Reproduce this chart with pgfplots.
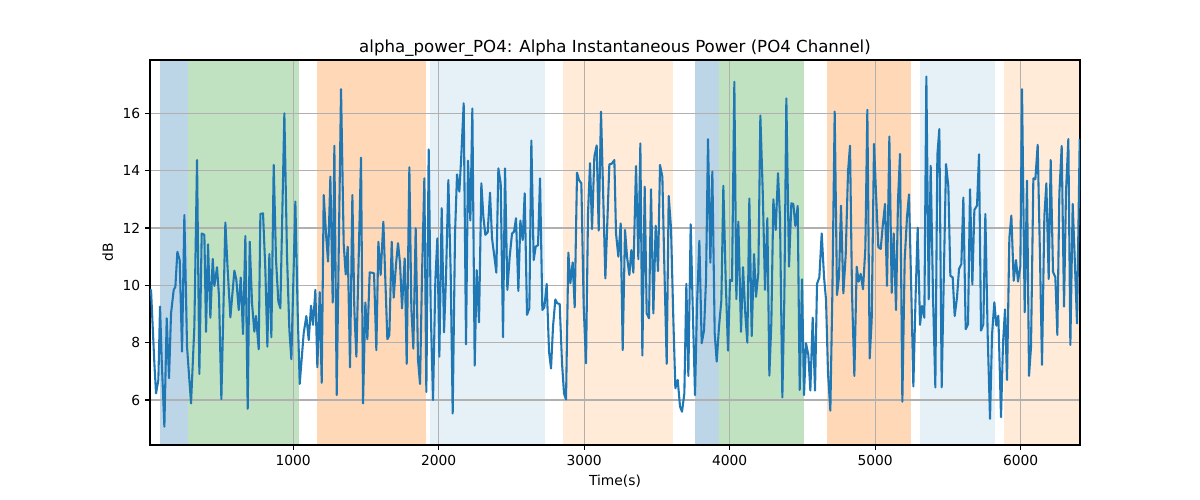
\documentclass[border=0pt]{standalone}
\usepackage{pgfplots}
\pgfplotsset{compat=1.18}
\usepackage{fontspec}
\setmainfont{DejaVu Sans}
\definecolor{tabblue}{RGB}{31,119,180}
\definecolor{taborange}{RGB}{255,127,14}
\definecolor{tabgreen}{RGB}{44,160,44}
\definecolor{gridgray}{RGB}{176,176,176}
\pgfplotsset{span/.style={draw=none, fill=#1, on layer=axis background}}
\begin{document}
\begin{tikzpicture}
\begin{axis}[
  set layers,
  at={(0,0)}, anchor=south west,
  scale only axis, width=669.6bp, height=277.2bp,
  xmin=16, xmax=6408, ymin=4.43, ymax=17.86,
  xtick={1000,2000,3000,4000,5000,6000},
  ytick={6,8,10,12,14,16},
  grid=major,
  major grid style={gridgray, line width=0.8bp},
  tick align=outside, major tick length=3.5bp,
  tick style={black, line width=0.8bp},
  xtick pos=bottom, ytick pos=left,
  axis line style={black, line width=0.8bp},
  /pgf/number format/assume math mode=true,
  /pgf/number format/1000 sep={},
  ticklabel style={font=\fontsize{10}{12}\selectfont},
  xlabel={Time(s)}, ylabel={dB},
  label style={font=\fontsize{10}{12}\selectfont},
  title={alpha\_power\_PO4: Alpha Instantaneous Power (PO4 Channel)},
  title style={font=\fontsize{12}{14}\selectfont, yshift=-6.8bp},
]
\addplot[span={tabblue!30!white}] coordinates {(87,4.43) (277,4.43) (277,17.86) (87,17.86)} --cycle;
\addplot[span={tabgreen!30!white}] coordinates {(277,4.43) (1038,4.43) (1038,17.86) (277,17.86)} --cycle;
\addplot[span={taborange!30!white}] coordinates {(1166,4.43) (1913,4.43) (1913,17.86) (1166,17.86)} --cycle;
\addplot[span={tabblue!11!white}] coordinates {(1941,4.43) (2731,4.43) (2731,17.86) (1941,17.86)} --cycle;
\addplot[span={taborange!16!white}] coordinates {(2857,4.43) (3611,4.43) (3611,17.86) (2857,17.86)} --cycle;
\addplot[span={tabblue!30!white}] coordinates {(3760,4.43) (3925,4.43) (3925,17.86) (3760,17.86)} --cycle;
\addplot[span={tabgreen!30!white}] coordinates {(3925,4.43) (4511,4.43) (4511,17.86) (3925,17.86)} --cycle;
\addplot[span={taborange!30!white}] coordinates {(4671,4.43) (5247,4.43) (5247,17.86) (4671,17.86)} --cycle;
\addplot[span={tabblue!11!white}] coordinates {(5311,4.43) (5824,4.43) (5824,17.86) (5311,17.86)} --cycle;
\addplot[span={taborange!16!white}] coordinates {(5888,4.43) (6408,4.43) (6408,17.86) (5888,17.86)} --cycle;
\addplot[tabblue, line width=1.5bp, line join=round] table {
x y
16 9.84
23.1 9.84
46.0 7.28
57.5 6.23
73.5 6.70
85.0 9.26
96.4 7.40
114.8 5.07
130.8 8.85
146.8 6.76
160.6 9.02
178.9 9.84
190.4 9.95
204.1 11.17
220.1 10.88
236.2 7.69
252.2 12.45
270.5 7.86
298.0 5.88
320.9 8.56
339.3 14.37
355.3 6.91
371.4 11.81
389.7 11.76
401.1 8.38
414.9 11.43
430.9 8.87
447.0 10.92
458.4 9.98
476.7 10.63
490.5 9.60
506.5 6.03
534.0 12.19
550.1 10.53
568.4 8.88
595.9 10.51
609.6 10.19
625.7 9.14
639.4 10.27
655.4 8.30
671.5 11.72
687.5 5.69
701.3 11.52
717.3 9.37
733.3 8.38
744.8 8.93
763.1 7.77
774.6 12.49
792.9 12.51
808.9 10.53
822.7 7.86
836.4 11.09
850.2 8.19
866.2 14.20
882.2 10.88
898.3 9.43
912.0 9.20
939.5 16.00
957.8 11.00
973.9 8.44
987.6 7.42
1015.1 12.92
1031.2 9.02
1044.9 6.56
1072.4 8.33
1090.7 8.93
1106.8 8.09
1122.8 9.29
1136.5 8.62
1152.6 9.84
1166.3 7.14
1182.4 9.76
1196.1 6.60
1209.9 13.15
1225.9 11.79
1239.7 10.83
1255.7 13.79
1271.7 9.40
1283.2 14.87
1299.2 6.17
1329.0 16.84
1347.3 11.44
1361.1 10.38
1374.8 11.35
1390.8 7.14
1406.9 13.15
1420.6 9.12
1434.4 7.51
1466.4 14.45
1480.2 5.88
1496.2 9.40
1510.0 8.12
1526.0 10.45
1542.0 10.44
1555.8 10.42
1571.8 7.74
1585.6 11.52
1601.3 10.36
1619.9 12.22
1647.4 8.12
1661.1 8.26
1677.2 11.52
1690.9 9.57
1707.0 10.74
1720.7 11.47
1734.4 10.77
1748.2 9.20
1766.5 10.94
1780.3 7.26
1798.6 14.12
1812.3 9.20
1826.1 7.79
1842.1 11.99
1858.2 7.40
1871.9 6.56
1885.6 10.36
1901.7 13.73
1915.4 6.28
1931.5 14.74
1945.2 9.20
1961.3 6.00
1977.3 10.19
1991.0 11.64
2004.8 7.51
2020.8 12.69
2036.9 8.36
2050.6 10.30
2066.6 13.67
2082.7 10.42
2096.4 5.53
2112.5 11.81
2126.2 13.87
2142.2 13.27
2156.0 14.55
2172.0 16.35
2188.1 7.94
2201.8 14.35
2217.8 12.26
2231.6 16.17
2247.6 7.20
2261.4 10.53
2277.4 8.71
2293.4 13.56
2307.2 12.40
2320.9 11.76
2337.0 11.85
2353.0 13.23
2366.8 11.64
2382.8 11.00
2396.5 10.44
2410.3 14.08
2426.3 13.56
2442.4 8.19
2456.1 14.08
2472.1 9.84
2488.2 11.00
2504.2 11.81
2518.0 11.87
2531.7 12.34
2547.8 9.80
2561.5 12.26
2577.5 11.58
2591.3 13.21
2607.3 8.97
2623.4 9.20
2637.1 15.05
2653.1 10.88
2666.9 11.35
2682.9 11.40
2696.7 13.73
2712.7 9.14
2726.4 9.23
2742.5 10.05
2758.5 7.69
2772.3 7.10
2786.0 8.56
2802.0 9.51
2815.8 9.37
2831.8 9.35
2847.9 7.28
2861.6 6.23
2875.4 6.02
2891.4 11.14
2905.1 10.07
2921.2 10.80
2934.9 9.23
2951.0 13.93
2964.7 13.67
2980.7 13.56
2996.8 9.26
3012.8 7.28
3026.6 12.51
3040.3 14.26
3054.1 11.96
3070.1 14.49
3086.1 14.88
3099.9 11.91
3115.9 16.06
3145.7 10.24
3173.2 14.22
3189.2 14.24
3207.6 14.37
3219.0 11.81
3235.1 11.00
3251.1 12.16
3264.8 7.74
3280.9 11.93
3294.6 11.00
3310.7 10.36
3324.4 11.23
3338.2 10.44
3356.5 14.16
3372.5 10.91
3386.3 14.95
3400.0 7.55
3416.0 13.44
3429.8 9.02
3445.8 8.85
3459.6 13.35
3475.6 9.02
3491.6 12.08
3507.7 10.50
3521.4 14.20
3537.5 13.79
3551.2 10.65
3567.3 7.26
3581.0 13.12
3597.0 11.99
3613.1 8.79
3626.8 6.41
3642.9 6.70
3658.9 5.77
3672.6 5.59
3688.7 6.23
3702.4 10.05
3716.2 6.84
3732.2 12.13
3746.0 9.26
3762.0 6.17
3775.7 9.31
3791.8 11.55
3807.8 7.98
3823.8 8.42
3837.6 10.19
3851.3 15.10
3867.4 10.79
3881.1 13.97
3897.2 8.33
3910.9 7.34
3926.9 8.56
3943.0 9.47
3956.7 13.47
3972.8 10.19
3988.8 7.72
4002.5 10.19
4016.3 10.15
4032.3 17.10
4046.1 9.52
4059.8 12.22
4078.1 8.38
4091.9 10.63
4107.9 8.97
4121.7 8.00
4135.4 13.03
4151.5 8.23
4167.5 11.09
4181.2 9.60
4197.3 10.44
4211.0 15.92
4227.1 13.33
4243.1 9.84
4259.1 12.34
4272.9 6.85
4286.6 8.70
4300.4 13.00
4316.4 11.93
4332.4 13.91
4346.2 12.34
4362.2 6.09
4376.0 9.60
4389.7 16.52
4408.0 10.65
4424.1 12.86
4437.8 12.84
4451.6 12.07
4467.6 12.77
4481.4 6.35
4497.4 10.21
4511.1 6.17
4524.9 7.98
4540.9 7.57
4554.7 6.33
4570.7 8.87
4586.7 6.33
4600.5 10.05
4616.5 10.28
4632.6 11.81
4648.6 10.30
4662.4 9.49
4676.1 6.93
4692.1 5.63
4705.9 9.72
4721.9 16.06
4738.0 9.66
4751.7 10.30
4765.5 12.78
4781.5 9.72
4797.6 11.06
4813.6 13.97
4827.3 14.87
4841.1 9.72
4857.1 6.84
4873.1 10.65
4886.9 10.13
4900.6 10.40
4916.7 9.86
4932.7 11.29
4946.4 16.12
4962.5 7.45
4976.2 8.79
4992.3 14.93
5006.0 13.21
5022.0 11.33
5038.1 11.27
5051.8 12.05
5067.9 12.84
5081.6 9.98
5097.7 15.19
5113.7 9.74
5127.4 11.81
5143.5 9.14
5157.2 12.98
5171.0 14.58
5187.0 5.94
5203.0 10.88
5219.1 12.40
5232.8 13.17
5248.9 9.72
5262.6 6.47
5278.6 9.72
5292.4 12.01
5308.4 8.62
5322.2 9.28
5338.2 8.87
5352.0 17.28
5368.0 9.51
5381.7 14.17
5397.8 9.60
5413.8 6.44
5427.6 14.55
5441.3 15.45
5457.3 6.44
5471.1 10.07
5487.1 14.23
5503.2 13.44
5516.9 10.33
5532.9 10.28
5546.7 8.93
5562.7 9.58
5576.5 10.57
5592.5 10.74
5606.3 13.06
5622.3 8.47
5638.3 8.64
5652.1 13.35
5668.1 10.03
5681.9 12.63
5700.2 12.78
5714.0 14.57
5727.7 8.42
5743.7 8.64
5757.5 12.49
5773.5 8.27
5789.5 5.34
5803.3 8.27
5819.3 9.41
5833.1 8.59
5846.8 8.94
5865.1 5.40
5878.9 7.98
5892.6 9.16
5906.4 6.70
5922.4 11.64
5936.2 12.43
5952.2 10.16
5968.2 10.88
5982.0 10.13
5998.0 10.67
6009.5 16.84
6027.8 9.06
6043.8 13.65
6057.6 6.84
6071.3 7.86
6087.4 13.73
6101.1 13.70
6117.1 14.90
6133.2 10.94
6146.9 7.23
6163.0 12.40
6176.7 13.56
6192.7 10.22
6206.5 14.37
6222.5 10.47
6238.6 10.28
6252.3 8.27
6266.1 13.21
6282.1 14.86
6298.1 9.26
6311.9 13.27
6327.9 15.10
6341.7 7.92
6357.7 12.84
6373.7 10.67
6387.5 8.67
6406.0 15.10
};
\end{axis}
\path (-108bp,-39.6bp) rectangle (756bp,320.4bp);
\end{tikzpicture}
\end{document}
